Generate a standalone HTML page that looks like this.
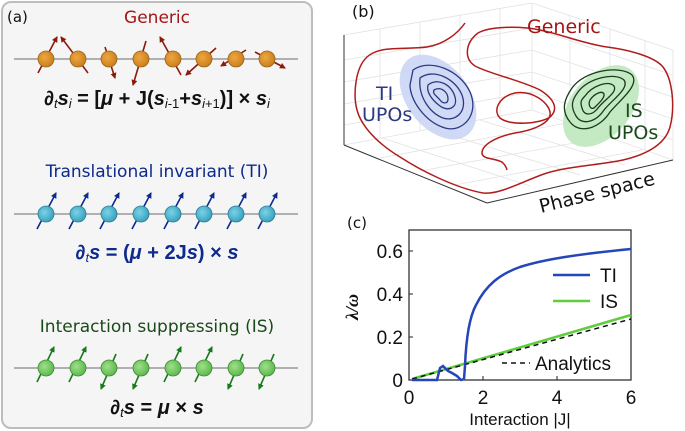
<!DOCTYPE html>
<html><head><meta charset="utf-8"><style>
html,body{margin:0;padding:0;background:#fff;}
svg{display:block;font-family:"DejaVu Sans","Liberation Sans",sans-serif;}
</style></head><body>
<svg width="685" height="431" viewBox="0 0 685 431" xmlns="http://www.w3.org/2000/svg">
<defs>
<marker id="hr" markerWidth="6" markerHeight="6" refX="5" refY="3" orient="auto" markerUnits="userSpaceOnUse"><path d="M0,0 L6,3 L0,6 z" fill="#8b1a0a"/></marker>
<marker id="hb" markerWidth="6" markerHeight="6" refX="5" refY="3" orient="auto" markerUnits="userSpaceOnUse"><path d="M0,0 L6,3 L0,6 z" fill="#0d2a8c"/></marker>
<marker id="hg" markerWidth="6" markerHeight="6" refX="5" refY="3" orient="auto" markerUnits="userSpaceOnUse"><path d="M0,0 L6,3 L0,6 z" fill="#157a1a"/></marker>
<radialGradient id="go" cx="0.4" cy="0.4" r="0.6"><stop offset="0" stop-color="#f0a640"/><stop offset="1" stop-color="#c9801e"/></radialGradient>
<radialGradient id="gc" cx="0.4" cy="0.4" r="0.6"><stop offset="0" stop-color="#7cd2e6"/><stop offset="1" stop-color="#3aa3c0"/></radialGradient>
<radialGradient id="gg" cx="0.4" cy="0.4" r="0.6"><stop offset="0" stop-color="#9ee08a"/><stop offset="1" stop-color="#5fb84e"/></radialGradient>
</defs>
<rect x="2" y="2" width="310" height="426" rx="9" fill="#f5f5f5" stroke="#bdbdbd" stroke-width="2"/>
<text x="7" y="22" font-size="15" fill="#111">(a)</text>
<text x="157" y="23" font-size="17" fill="#a31515" text-anchor="middle">Generic</text>
<line x1="14" y1="59" x2="298" y2="59" stroke="#b0b0b0" stroke-width="2"/>
<g stroke="#8b1a0a" stroke-width="1.6" marker-end="url(#hr)">
<line x1="38" y1="73" x2="57" y2="37"/><line x1="88" y1="73" x2="61" y2="37"/>
<line x1="105" y1="47" x2="115" y2="78"/><line x1="146" y1="41" x2="133" y2="85"/>
<line x1="181" y1="75" x2="160" y2="37"/><line x1="216" y1="48" x2="186" y2="75"/>
<line x1="246" y1="50" x2="221" y2="66"/><line x1="255" y1="52" x2="285" y2="68"/>
</g>
<g fill="url(#go)" stroke="#9a6418" stroke-width="0.8">
<circle cx="46" cy="59" r="8"/><circle cx="78" cy="59" r="8"/><circle cx="109" cy="59" r="8"/><circle cx="141" cy="59" r="8"/><circle cx="173" cy="59" r="8"/><circle cx="204" cy="59" r="8"/><circle cx="236" cy="59" r="8"/><circle cx="267" cy="59" r="8"/>
</g>
<g font-family="Liberation Sans, sans-serif" font-weight="bold" font-size="20">
<text x="157" y="105" fill="#111" text-anchor="middle">∂<tspan font-style="italic" font-weight="normal" font-size="13" dy="3">t</tspan><tspan dy="-3" font-style="italic">s</tspan><tspan font-style="italic" font-weight="normal" font-size="13" dy="3">i</tspan><tspan dy="-3"> = [</tspan><tspan font-style="italic">μ</tspan> + J(<tspan font-style="italic">s</tspan><tspan font-style="italic" font-weight="normal" font-size="13" dy="3">i</tspan><tspan font-weight="normal" font-size="13">-1</tspan><tspan dy="-3">+</tspan><tspan font-style="italic">s</tspan><tspan font-style="italic" font-weight="normal" font-size="13" dy="3">i</tspan><tspan font-weight="normal" font-size="13">+1</tspan><tspan dy="-3">)] × </tspan><tspan font-style="italic">s</tspan><tspan font-style="italic" font-weight="normal" font-size="13" dy="3">i</tspan></text>
<text x="157" y="259" fill="#0d2a8c" text-anchor="middle">∂<tspan font-style="italic" font-weight="normal" font-size="13" dy="3">t</tspan><tspan dy="-3" font-style="italic">s</tspan> = (<tspan font-style="italic">μ</tspan> + 2J<tspan font-style="italic">s</tspan>) × <tspan font-style="italic">s</tspan></text>
<text x="157" y="414" fill="#111" text-anchor="middle">∂<tspan font-style="italic" font-weight="normal" font-size="13" dy="3">t</tspan><tspan dy="-3" font-style="italic">s</tspan> = <tspan font-style="italic">μ</tspan> × <tspan font-style="italic">s</tspan></text>
</g>

<text x="157" y="177" font-size="17" fill="#0d2a8c" text-anchor="middle">Translational invariant (TI)</text>
<line x1="14" y1="214" x2="298" y2="214" stroke="#b0b0b0" stroke-width="2"/>
<g stroke="#0d2a8c" stroke-width="1.6" marker-end="url(#hb)">
<line x1="37" y1="229" x2="56" y2="193"/><line x1="69" y1="229" x2="88" y2="193"/><line x1="100" y1="229" x2="119" y2="193"/><line x1="132" y1="229" x2="151" y2="193"/><line x1="164" y1="229" x2="183" y2="193"/><line x1="195" y1="229" x2="214" y2="193"/><line x1="227" y1="229" x2="246" y2="193"/><line x1="258" y1="229" x2="277" y2="193"/>
</g>
<g fill="url(#gc)" stroke="#2a7d96" stroke-width="0.8">
<circle cx="46" cy="214" r="8"/><circle cx="78" cy="214" r="8"/><circle cx="109" cy="214" r="8"/><circle cx="141" cy="214" r="8"/><circle cx="173" cy="214" r="8"/><circle cx="204" cy="214" r="8"/><circle cx="236" cy="214" r="8"/><circle cx="267" cy="214" r="8"/>
</g>

<text x="157" y="332" font-size="17" fill="#1a4a1a" text-anchor="middle">Interaction suppressing (IS)</text>
<line x1="14" y1="368" x2="298" y2="368" stroke="#b0b0b0" stroke-width="2"/>
<g stroke="#157a1a" stroke-width="1.6" marker-end="url(#hg)">
<line x1="37" y1="382" x2="54" y2="347"/><line x1="69" y1="382" x2="86" y2="347"/>
<line x1="116" y1="354" x2="101" y2="389"/><line x1="148" y1="354" x2="133" y2="389"/>
<line x1="164" y1="382" x2="181" y2="347"/><line x1="195" y1="382" x2="212" y2="347"/>
<line x1="243" y1="354" x2="228" y2="389"/><line x1="274" y1="354" x2="259" y2="389"/>
</g>
<g fill="url(#gg)" stroke="#3f8a36" stroke-width="0.8">
<circle cx="46" cy="368" r="8"/><circle cx="78" cy="368" r="8"/><circle cx="109" cy="368" r="8"/><circle cx="141" cy="368" r="8"/><circle cx="173" cy="368" r="8"/><circle cx="204" cy="368" r="8"/><circle cx="236" cy="368" r="8"/><circle cx="267" cy="368" r="8"/>
</g>

<!-- panel b -->
<text x="352" y="17" font-size="16" fill="#111">(b)</text>
<g stroke="#e2e2e2" stroke-width="0.8" fill="none">
<line x1="532" y1="3" x2="532" y2="110"/>
<line x1="344" y1="35" x2="532" y2="3"/><line x1="532" y1="3" x2="673" y2="50"/>
<line x1="673" y1="50" x2="673" y2="160"/>
<line x1="344" y1="145" x2="532" y2="110"/><line x1="532" y1="110" x2="673" y2="160"/>
<line x1="380" y1="29" x2="380" y2="138"/><line x1="420" y1="22" x2="420" y2="131"/><line x1="460" y1="15" x2="460" y2="123"/><line x1="500" y1="8" x2="500" y2="116"/>
<line x1="570" y1="16" x2="570" y2="124"/><line x1="610" y1="29" x2="610" y2="138"/><line x1="645" y1="41" x2="645" y2="150"/>
<line x1="344" y1="60" x2="532" y2="28"/><line x1="344" y1="82" x2="532" y2="50"/><line x1="344" y1="104" x2="532" y2="72"/><line x1="344" y1="125" x2="532" y2="92"/>
<line x1="532" y1="28" x2="673" y2="75"/><line x1="532" y1="50" x2="673" y2="97"/><line x1="532" y1="72" x2="673" y2="119"/><line x1="532" y1="92" x2="673" y2="140"/>
<line x1="380" y1="158" x2="567" y2="123"/><line x1="420" y1="171" x2="607" y2="137"/><line x1="455" y1="185" x2="642" y2="150"/>
<line x1="530" y1="186" x2="382" y2="138"/><line x1="580" y1="175" x2="430" y2="129"/><line x1="625" y1="165" x2="480" y2="120"/>
</g>
<g stroke="#333" stroke-width="1" fill="none">
<line x1="344" y1="35" x2="344" y2="145"/><line x1="344" y1="145" x2="487" y2="203"/><line x1="487" y1="203" x2="673" y2="160"/>
</g>
<ellipse cx="438" cy="97" rx="48" ry="31" transform="rotate(52 438 97)" fill="#c8d4f6" opacity="0.85"/>
<ellipse cx="601" cy="106" rx="47" ry="30" transform="rotate(-50 601 106)" fill="#bde8bb" opacity="0.9"/>
<g fill="none" stroke="#2b3a80" stroke-width="1.3">
<path d="M413,70 C430,58 460,70 470,92 C480,115 462,133 445,128 C425,122 410,100 410,85 Z"/>
<path d="M420,78 C433,68 455,78 462,95 C468,112 455,122 443,118 C430,113 418,97 420,78 Z"/>
<path d="M428,85 C438,77 452,85 455,97 C458,108 448,112 440,106 C432,100 426,92 428,85 Z"/>
<path d="M434,90 C441,86 448,92 448,99 C448,104 443,104 440,100 C437,96 432,94 434,90 Z"/>
</g>
<g fill="none" stroke="#1c3a1c" stroke-width="1.3">
<path d="M572,88 C585,70 620,65 632,75 C640,85 620,100 610,112 C600,128 580,135 570,122 C560,110 565,98 572,88 Z"/>
<path d="M578,92 C588,78 615,72 624,80 C630,88 612,100 604,110 C596,122 582,126 576,116 C570,106 572,100 578,92 Z"/>
<path d="M585,96 C592,86 608,80 614,86 C618,92 604,100 598,108 C592,116 584,116 582,108 C580,102 581,100 585,96 Z"/>
<path d="M590,100 C594,94 602,90 604,94 C605,98 598,104 594,108 C590,110 588,104 590,100 Z"/>
</g>
<path d="M465,23 C458,33 445,44 427,47 C405,50 380,45 367,57 C355,68 353,95 357,110 C360,122 372,140 400,157 C420,170 455,188 483,193 C500,195 525,180 547,173 C570,166 600,165 623,160 C645,155 665,145 670,127 C675,108 673,80 663,67 C655,57 630,50 607,47 C585,44 560,34 540,30 C520,26 490,26 478,33 C466,42 463,58 475,66 C490,74 520,80 540,90 C556,100 558,110 550,117 C540,124 510,126 500,118 C492,110 500,96 515,93 C532,90 548,102 550,112 C552,122 535,130 515,133 C495,137 482,145 482,153 C482,160 498,158 503,163 C506,166 507,170 507,170" fill="none" stroke="#b01c1c" stroke-width="1.5"/>
<text x="527" y="33" font-size="19" fill="#a31515">Generic</text>
<text x="376" y="100" font-size="19" fill="#2b3a80">TI</text>
<text x="362" y="121" font-size="19" fill="#2b3a80">UPOs</text>
<text x="625" y="117" font-size="19" fill="#1c4a1c">IS</text>
<text x="608" y="139" font-size="19" fill="#1c4a1c">UPOs</text>
<text x="541" y="213" font-size="19" fill="#111" transform="rotate(-14 541 213)">Phase space</text>

<!-- panel c -->
<text x="347" y="228" font-size="15" fill="#111">(c)</text>
<rect x="409" y="230" width="222" height="150" fill="none" stroke="#222" stroke-width="1.2"/>
<g stroke="#222" stroke-width="1">
<line x1="409" y1="251" x2="413" y2="251"/><line x1="409" y1="294" x2="413" y2="294"/><line x1="409" y1="337" x2="413" y2="337"/>
<line x1="483" y1="380" x2="483" y2="376"/><line x1="557" y1="380" x2="557" y2="376"/>
</g>
<g font-size="19" fill="#111" text-anchor="end" font-family="Liberation Sans, sans-serif">
<text x="403" y="258">0.6</text><text x="403" y="301">0.4</text><text x="403" y="344">0.2</text><text x="403" y="387">0</text>
</g>
<g font-size="19" fill="#111" text-anchor="middle" font-family="Liberation Sans, sans-serif">
<text x="409" y="404">0</text><text x="483" y="404">2</text><text x="557" y="404">4</text><text x="631" y="404">6</text>
<text x="520" y="425" font-size="17">Interaction |J|</text>
</g>
<text x="0" y="0" font-size="18" font-weight="bold" font-style="italic" fill="#111" transform="translate(358 307) rotate(-90)" text-anchor="middle" font-family="Liberation Serif, serif">λ/ω</text>
<line x1="412" y1="379" x2="631" y2="315" stroke="#5fce3c" stroke-width="2.5"/>
<line x1="412" y1="379" x2="631" y2="319" stroke="#111" stroke-width="1.5" stroke-dasharray="5,4"/>
<path d="M412,380 L437,380 L440,368 L443,366 L448,371 L452,373 L457,376 L461,380 L464,379 L465,366 C466,340 469,318 476,305 C486,285 500,274 520,267 C545,259 580,254 631,249" fill="none" stroke="#2446b8" stroke-width="2.5"/>
<line x1="553" y1="275" x2="590" y2="275" stroke="#2446b8" stroke-width="2.5"/>
<line x1="553" y1="301" x2="590" y2="301" stroke="#5fce3c" stroke-width="2.5"/>
<line x1="502" y1="363" x2="530" y2="363" stroke="#111" stroke-width="1.5" stroke-dasharray="5,4"/>
<g font-size="19" fill="#111" font-family="Liberation Sans, sans-serif">
<text x="600" y="282">TI</text><text x="600" y="308">IS</text><text x="535" y="370">Analytics</text>
</g>
</svg>
</body></html>
